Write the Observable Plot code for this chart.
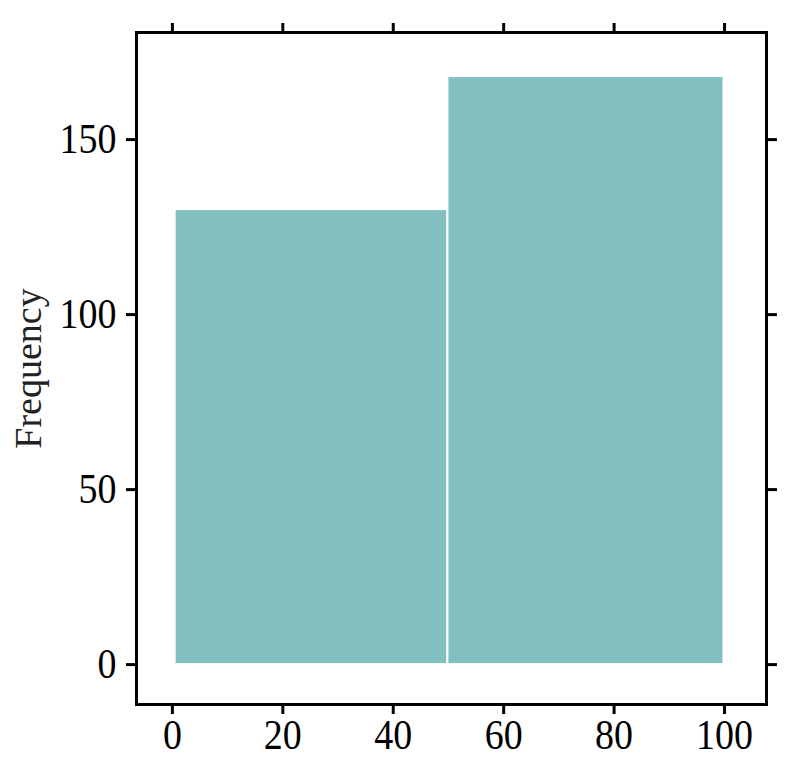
<!DOCTYPE html>
<html><head><meta charset="utf-8">
<script src="https://cdn.jsdelivr.net/npm/d3@7"></script>
<script src="https://cdn.jsdelivr.net/npm/@observablehq/plot@0.6"></script>
<style>body{margin:0;background:#fff}</style>
</head><body><div id="chart"></div>
<script>
const binStart = [0.5, 49.9];
const binEnd = [49.9, 99.9];
const counts = [130, 168];
const xTicks = [0, 20, 40, 60, 80, 100];
const yTicks = [0, 50, 100, 150];
const yLabel = "Frequency";

const data = counts.map((c, i) => ({x1: binStart[i], x2: binEnd[i], y: c}));

const chart = Plot.plot({
  width: 801, height: 769,
  marginLeft: 136, marginRight: 35, marginTop: 32, marginBottom: 65,
  x: {domain: [-6.5, 107.6]},
  y: {domain: [-11.4, 180.6]},
  style: {fontFamily: "'Liberation Serif', 'DejaVu Serif', serif", background: "#fff", color: "#000"},
  marks: [
    Plot.rectY(data, {x1: "x1", x2: "x2", y: "y", fill: "#82bfc0", stroke: "#fff", strokeWidth: 2}),
    Plot.frame({stroke: "#000", strokeWidth: 3}),
    Plot.axisX({anchor: "bottom", ticks: xTicks, tickSize: 10, tickPadding: 4, fontSize: 38, strokeWidth: 3, label: null}),
    Plot.axisX({anchor: "top", ticks: xTicks, tickSize: 10, strokeWidth: 3, tickFormat: () => "", label: null}),
    Plot.axisY({anchor: "left", ticks: yTicks, tickSize: 10, tickPadding: 10, fontSize: 38, strokeWidth: 3, label: null}),
    Plot.axisY({anchor: "right", ticks: yTicks, tickSize: 10, strokeWidth: 3, tickFormat: () => "", label: null}),
    Plot.text([yLabel], {frameAnchor: "left", textAnchor: "middle", dx: -108, rotate: -90, fontSize: 38, fill: "#222"})
  ]
});
document.getElementById("chart").appendChild(chart);
// the reference glyphs are slightly stretched vertically
chart.querySelectorAll("g[aria-label$='tick label'] text").forEach(t => {
  const tr = t.getAttribute("transform") || "";
  t.setAttribute("transform", tr + " scale(1,1.12)");
});
</script>
</body></html>
